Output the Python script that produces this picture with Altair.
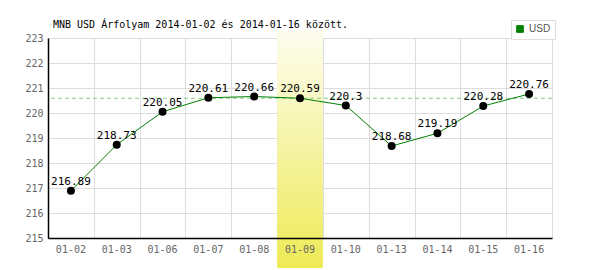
import altair as alt
import pandas as pd

dates = ["01-02", "01-03", "01-06", "01-07", "01-08", "01-09",
         "01-10", "01-13", "01-14", "01-15", "01-16"]
values = [216.89, 218.73, 220.05, 220.61, 220.66, 220.59,
          220.3, 218.68, 219.19, 220.28, 220.76]
labels = ["216.89", "218.73", "220.05", "220.61", "220.66", "220.59",
          "220.3", "218.68", "219.19", "220.28", "220.76"]
highlight_date = "01-09"
ref_value = 220.59
y_ticks = [215, 216, 217, 218, 219, 220, 221, 222, 223]
series = "USD"
title_text = "MNB USD Árfolyam 2014-01-02 és 2014-01-16 között."

df = pd.DataFrame({"date": dates, "value": values, "label": labels,
                   "series": [series] * len(dates)})
band_df = pd.DataFrame({"date": [highlight_date]})
ref_df = pd.DataFrame({"value": [ref_value]})

mono = "DejaVu Sans Mono"

xscale = alt.Scale(domain=dates, paddingInner=0, paddingOuter=0)
yscale = alt.Scale(domain=[215, 223], nice=False, zero=False)

grid_x_axis = alt.Axis(title="", orient="bottom", grid=True, gridColor="#dddddd",
                       tickBand="extent", labels=False, domain=False, ticks=False,
                       labelPadding=0, zindex=0)
main_x_axis = alt.Axis(title="", orient="bottom", grid=False, labels=True, domain=True,
                       domainColor="#000000", domainWidth=1.5, ticks=False, labelFont=mono,
                       labelFontSize=10, labelColor="#666666", labelPadding=6, labelAngle=0,
                       zindex=1)
y_axis = alt.Axis(title="", values=y_ticks, grid=True, gridColor="#dddddd", domain=True,
                  domainColor="#000000", domainWidth=1.5, ticks=False, labelFont=mono,
                  labelFontSize=10, labelColor="#666666", labelPadding=5, labelOverlap=False,
                  zindex=0)

gradient = alt.Gradient(
    gradient="linear",
    stops=[alt.GradientStop(color="#fdfdf0", offset=0),
           alt.GradientStop(color="#eeea55", offset=1)],
    x1=0, x2=0, y1=0, y2=1,
)

band = alt.Chart(band_df).mark_rect(fill=gradient).encode(
    x=alt.X("date:N", scale=xscale, axis=grid_x_axis),
    y=alt.value(-8),
    y2=alt.value(230),
)

ref = alt.Chart(ref_df).mark_rule(color="#88cc88", strokeDash=[4, 3], strokeWidth=1).encode(
    y=alt.Y("value:Q", scale=yscale, axis=y_axis),
)

line = alt.Chart(df).mark_line(strokeWidth=1).encode(
    x=alt.X("date:N", scale=xscale, axis=main_x_axis),
    y=alt.Y("value:Q", scale=yscale, axis=y_axis),
    color=alt.Color("series:N", scale=alt.Scale(domain=[series], range=["#008000"]),
                    legend=alt.Legend(title=None, orient="none", legendX=463, legendY=-18,
                                      symbolType="square", symbolSize=45,
                                      symbolFillColor="#008000", symbolStrokeColor="#555555",
                                      symbolStrokeWidth=1, labelFont="Liberation Sans",
                                      labelFontSize=10, labelColor="#555555",
                                      strokeColor="#dddddd", padding=4, fillColor="white")),
)

points = alt.Chart(df).mark_circle(size=64, color="black", opacity=1).encode(
    x=alt.X("date:N", scale=xscale, axis=None),
    y=alt.Y("value:Q", scale=yscale, axis=y_axis),
)

text = alt.Chart(df).mark_text(font=mono, fontSize=11, color="black", dy=-6,
                               baseline="alphabetic").encode(
    x=alt.X("date:N", scale=xscale, axis=None),
    y=alt.Y("value:Q", scale=yscale, axis=y_axis),
    text="label:N",
)

chart = alt.layer(band, ref, line, points, text).resolve_axis(x="independent").properties(
    width=504, height=200,
    title=alt.TitleParams(title_text, font=mono, fontSize=10, fontWeight="normal",
                          color="#000000", anchor="start", orient="top", frame="group",
                          offset=-10, dx=5),
    autosize=alt.AutoSizeParams(type="none"),
    padding={"left": 48, "top": 38, "right": 48, "bottom": 32},
).configure_view(stroke=None)

chart.save("out.html", embed_options={"renderer": "svg", "actions": False})
